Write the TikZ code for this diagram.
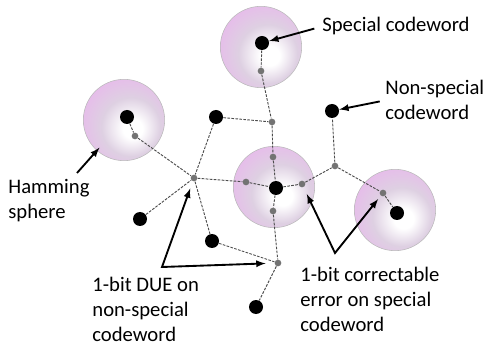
\documentclass[tikz,border=0pt]{standalone}
\usepackage{fontspec}
\setmainfont{Carlito}
\usetikzlibrary{arrows}
\usetikzlibrary{positioning,shapes}
\usepackage[usenames,svgnames]{xcolor}

\definecolor{sphpink}{RGB}{220,145,226}
\definecolor{sphgray}{RGB}{222,208,226}
\pgfdeclareradialshading{hsphere}{\pgfpoint{6bp}{-6bp}}{%
  color(0bp)=(white); color(6bp)=(white); color(18bp)=(sphgray);
  color(33bp)=(sphpink!65!white); color(45bp)=(sphpink); color(60bp)=(sphpink)}

\begin{document}
\begin{tikzpicture} [x=0.75pt,y=-0.75pt,line width=0.6pt,
  sphere/.style={circle,draw=gray!55,line width=0.4pt,shading=hsphere,minimum size=61pt,inner sep=0},
  word/.style={circle,fill=black,minimum size=10.5pt,inner sep=0},
  err/.style={circle,fill=black!55,minimum size=5pt,inner sep=0},
  lbl/.style={font=\fontsize{15.5}{18.75}\selectfont,align=left,inner sep=0,anchor=base west},
  pointer/.style={->,>=latex,line width=1.4pt},
  hop/.style={draw=black!70,line width=0.7pt,dash pattern=on 2pt off 1pt}]

  \useasboundingbox (0,0) rectangle (485,345);

  % Hamming spheres
  \node[sphere] (tsph) at (261,47) {};
  \node[sphere] (lsph) at (124,120) {};
  \node[sphere] (csph) at (274,187) {};
  \node[sphere] (rsph) at (395,210) {};

  % codewords
  \node[word] (top) at (262,43) {};
  \node[word] (left) at (127,117) {};
  \node[word] (up) at (216,117) {};
  \node[word] (ns) at (332,111) {};
  \node[word] (ctr) at (276,188) {};
  \node[word] (rt) at (397,213) {};
  \node[word] (ll) at (140,219) {};
  \node[word] (lm) at (212,241) {};
  \node[word] (bot) at (256,307) {};

  % 1-bit error words
  \node[err] (g1) at (261,71) {};
  \node[err] (g2) at (272,122) {};
  \node[err] (g3) at (273,157) {};
  \node[err] (g4) at (135,136) {};
  \node[err] (hub) at (194,178) {};
  \node[err] (g6) at (246,182) {};
  \node[err] (g7) at (302,184) {};
  \node[err] (g8) at (273,211) {};
  \node[err] (g9) at (335,166) {};
  \node[err] (g10) at (383,193) {};
  \node[err] (g11) at (278,263) {};

  \path[hop]
    (top) edge (g1) (g1) edge (g2) (g2) edge (g3) (g3) edge (ctr)
    (ctr) edge (g8) (g8) edge (g11) (g11) edge (bot)
    (up) edge (g2) (up) edge (hub)
    (left) edge (g4) (g4) edge (hub)
    (ll) edge (hub)
    (hub) edge (g6) (g6) edge (ctr)
    (hub) edge (lm) (lm) edge (g11)
    (ctr) edge (g7) (g7) edge (g9) (g9) edge (ns)
    (g9) edge (g10) (g10) edge (rt);

  % labels (base = last line)
  \node[lbl] (tspecial) at (322,32) {Special codeword};
  \node[lbl] (tnonsp) at (385,120) {Non-special\\codeword};
  \node[lbl] (thamming) at (8,219) {Hamming\\sphere};
  \node[lbl] (tdue) at (92,341) {1-bit DUE on\\non-special\\codeword};
  \node[lbl] (tfix) at (300,331) {1-bit correctable\\error on special\\codeword};

  \coordinate (hamtail) at (77,173);
  \coordinate (duecorner) at (162,267);
  \coordinate (fixcorner) at (335,253);

  \draw[pointer,shorten <=6pt] (tspecial.west) -- (top);
  \draw[pointer,shorten <=4pt] (tnonsp.west) -- (ns);
  \draw[pointer,shorten >=-3pt] (hamtail) -- (lsph);
  \draw[pointer,<->,shorten <=5.5pt,shorten >=6.5pt] (hub) -- (duecorner) -- (g11);
  \draw[pointer,<->,shorten <=5.5pt,shorten >=3pt] (g7) -- (fixcorner) -- (g10);

\end{tikzpicture}
\end{document}
